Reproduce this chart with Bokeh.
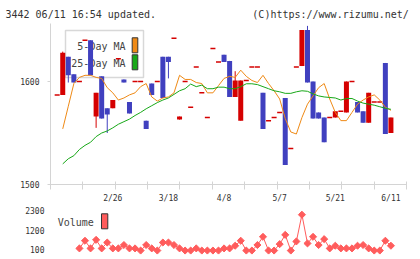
import numpy as np
from bokeh.plotting import figure
from bokeh.layouts import column
from bokeh.models import Range1d, FixedTicker, Label, BoxAnnotation
from bokeh.embed import file_html
from bokeh.resources import INLINE

# ---- daily quotes, oldest first ----
opens = [1587, 1587, 1624, 1607, 1600, 1640, 1640, 1566, 1605, 1574,
         1574, 1622, 1602, 1580, 1600, 1600, 1562, 1598, 1600, 1624,
         1624, 1642, 1563, 1600, 1575, 1614, 1589, 1565, 1632, 1619,
         1626, 1620, 1585, 1562, 1601, 1614, 1614, 1589, 1562, 1565,
         1570, 1584, 1535, 1614, 1615, 1650, 1600, 1570, 1565, 1565,
         1565, 1571, 1570, 1600, 1580, 1571, 1560, 1580, 1580, 1618,
         1550]
closes = [1587, 1628, 1606, 1599, 1600, 1640, 1606, 1589, 1564, 1568,
          1582, 1622, 1599, 1569, 1600, 1600, 1554, 1587, 1600, 1584,
          1619, 1642, 1566, 1600, 1575, 1614, 1589, 1565, 1632, 1619,
          1619, 1585, 1601, 1601, 1601, 1614, 1614, 1554, 1562, 1565,
          1570, 1519, 1535, 1614, 1650, 1599, 1564, 1564, 1541, 1565,
          1571, 1571, 1600, 1600, 1570, 1560, 1589, 1580, 1580, 1549,
          1565]
highs = [1587, 1629, 1624, 1607, 1600, 1640, 1640, 1589, 1605, 1574,
         1582, 1622, 1602, 1580, 1600, 1600, 1562, 1598, 1600, 1624,
         1624, 1642, 1566, 1600, 1575, 1614, 1589, 1565, 1632, 1619,
         1626, 1620, 1610, 1601, 1601, 1614, 1614, 1589, 1562, 1565,
         1570, 1584, 1535, 1614, 1650, 1654, 1600, 1570, 1565, 1565,
         1571, 1571, 1600, 1600, 1580, 1571, 1589, 1580, 1580, 1618,
         1565]
lows = [1587, 1587, 1599, 1599, 1600, 1640, 1606, 1555, 1564, 1550,
        1574, 1622, 1599, 1569, 1600, 1600, 1554, 1587, 1600, 1584,
        1603, 1642, 1563, 1600, 1575, 1614, 1589, 1565, 1632, 1619,
        1619, 1585, 1585, 1562, 1601, 1614, 1614, 1554, 1562, 1565,
        1570, 1519, 1535, 1614, 1615, 1599, 1564, 1564, 1541, 1565,
        1565, 1571, 1570, 1600, 1570, 1560, 1560, 1580, 1580, 1549,
        1550]
nan = float("nan")
ma5 = [nan, 1554, 1576, 1598, 1604, 1606, 1606, 1604, 1603, 1594,
       1589, 1582, 1584, 1587, 1589, 1595, 1598, 1585, 1581, 1584,
       1585, 1589, 1606, 1602, 1602, 1599, 1598, 1589, 1589, 1596,
       1603, 1605, 1604, 1611, 1605, 1601, 1599, 1606, 1598, 1591,
       1583, 1564, 1551, 1549, 1565, 1578, 1586, 1594, 1598, 1583,
       1570, 1562, 1562, 1570, 1578, 1582, 1585, 1587, 1582, 1575,
       1572]
ma25 = [nan, 1520, 1525, 1528, 1534, 1538, 1541, 1546.5, 1550, 1552,
        1555, 1558.5, 1561, 1563.5, 1567, 1570, 1573.5, 1576.5, 1579.5, 1582,
        1584, 1587.5, 1591, 1593, 1597.5, 1595, 1596.5, 1593, 1593, 1594.5,
        1594.5, 1593, 1593, 1595, 1597.8, 1597.8, 1597, 1595, 1593, 1591,
        1590, 1588.5, 1588.5, 1590, 1591, 1590.5, 1588, 1586, 1585, 1584.5,
        1584, 1582, 1583.5, 1583.5, 1581, 1579, 1578, 1577, 1575.5, 1574,
        1573]
volume = [nan, nan, nan, nan, 170, 600, 170, 650, 170, 500,
          170, 170, 360, 170, 170, 50, 360, 170, 50, 500,
          500, 360, 170, 50, 50, 170, 50, 50, 50, 50,
          170, 170, 320, 600, 50, 50, 360, 820, 50, 50,
          410, 930, 50, 560, 2060, 450, 820, 360, 690, 170,
          320, 170, 170, 170, 320, 360, 170, 50, 50, 600,
          320]
date_labels = ["2/26", "3/18", "4/8", "5/7", "5/21", "6/11"]
date_index = [10, 20, 30, 40, 50, 60]
price_ticks = [1500, 1600]
volume_ticks = [100, 1200, 2300]
header_left = "3442 06/11 16:54 updated."
header_right = "(C)https://www.rizumu.net/"

RED = "#d50000"
BLUE = "#4040bf"
ORANGE = "#ef8a16"
GREEN = "#17a817"
VOLC = "#ff5c5c"
AXIS = "#d4d4d4"
TXT = "#333333"
MONO = "DejaVu Sans Mono"

o = np.array(opens, float)
c = np.array(closes, float)
h = np.array(highs, float)
l = np.array(lows, float)
idx = np.arange(len(o))
up = c >= o
doji = c == o
col = np.where(up, RED, BLUE)

# ---- price panel ----
X_LO, X_HI = -1.2, 62.8
p = figure(width=420, height=190, output_backend="svg", toolbar_location=None,
           x_range=Range1d(X_LO, X_HI), y_range=Range1d(1500, 1500 + 161 / 1.03),
           min_border_left=50, min_border_right=14, min_border_top=23,
           min_border_bottom=6)
p.outline_line_color = None
p.grid.visible = False
p.background_fill_color = "white"
p.border_fill_color = "white"

# header line, written as one monospaced title row
p.title.text = header_left + "\u00a0" * 16 + header_right
p.title.align = "left"
p.title.offset = -45
p.title.standoff = 7
p.title.text_font = MONO
p.title.text_font_size = "10px"
p.title.text_font_style = "normal"
p.title.text_color = TXT

xa = p.xaxis[0]
xa.ticker = FixedTicker(ticks=[], minor_ticks=list(np.linspace(X_LO, X_HI, 12)))
xa.minor_tick_in = 3
xa.minor_tick_out = 5
xa.major_tick_in = 0
xa.major_tick_out = 0
xa.axis_line_color = AXIS
xa.minor_tick_line_color = AXIS

ya = p.yaxis[0]
ya.ticker = FixedTicker(ticks=price_ticks)
ya.major_tick_in = 0
ya.major_tick_out = 3
ya.major_label_standoff = 8
ya.major_label_text_font = MONO
ya.major_label_text_font_size = "8px"
ya.major_label_text_color = TXT
ya.axis_line_color = AXIS
ya.major_tick_line_color = AXIS
ya.minor_tick_line_color = None

# legend box, under the candles
box_kw = dict(left_units="screen", right_units="screen", top_units="screen",
              bottom_units="screen", level="underlay")
p.add_layout(BoxAnnotation(left=15, right=93, bottom=107, top=154, fill_color="white",
                           fill_alpha=1, line_color="#d8d8d8", line_alpha=1, line_width=1.5, **box_kw))
p.add_layout(BoxAnnotation(left=81.7, right=87.3, bottom=131.7, top=146.7, fill_color=ORANGE,
                           fill_alpha=1, line_color="#333333", line_alpha=1, line_width=1, **box_kw))
p.add_layout(BoxAnnotation(left=81.7, right=87.3, bottom=114.7, top=129.7, fill_color=GREEN,
                           fill_alpha=1, line_color="#333333", line_alpha=1, line_width=1, **box_kw))
for txt, yy in (("5-Day MA", 138), ("25-Day MA", 120.7)):
    p.add_layout(Label(x=75, y=yy, x_units="screen", y_units="screen", text=txt,
                       text_font=MONO, text_font_size="10px", text_color="#444444",
                       text_align="right", text_baseline="middle", level="underlay"))

# candles: wicks, bodies, flat days
p.segment(x0=idx, y0=l, x1=idx, y1=h, line_color=col, line_width=1)
body = ~doji
p.vbar(x=idx[body], width=0.9, top=np.maximum(o, c)[body], bottom=np.minimum(o, c)[body],
       fill_color=col[body], line_color=None)
p.segment(x0=idx[doji] - 0.45, y0=c[doji], x1=idx[doji] + 0.45, y1=c[doji],
          line_color=RED, line_width=1.5)

# moving averages
p.line(idx, ma5, line_color=ORANGE, line_width=1)
p.line(idx, ma25, line_color=GREEN, line_width=1)

# ---- volume panel ----
q = figure(width=420, height=69, output_backend="svg", toolbar_location=None,
           x_range=Range1d(X_LO, X_HI), y_range=Range1d(-340, 2520),
           x_axis_location="above", min_border_left=50, min_border_right=14,
           min_border_top=15, min_border_bottom=2)
q.outline_line_color = None
q.grid.visible = False

qx = q.xaxis[0]
qx.ticker = FixedTicker(ticks=date_index)
qx.major_label_overrides = {i: t for i, t in zip(date_index, date_labels)}
qx.major_tick_in = 0
qx.major_tick_out = 0
qx.major_label_standoff = 4
qx.axis_line_color = None
qx.major_label_text_font = MONO
qx.major_label_text_font_size = "8px"
qx.major_label_text_color = TXT
qx.minor_tick_line_color = None

qy = q.yaxis[0]
qy.ticker = FixedTicker(ticks=volume_ticks)
qy.major_tick_in = 0
qy.major_tick_out = 0
qy.major_label_standoff = 6
qy.axis_line_color = None
qy.major_label_text_font = MONO
qy.major_label_text_font_size = "8px"
qy.major_label_text_color = TXT
qy.minor_tick_line_color = None

q.line(idx, volume, line_color=VOLC, line_width=1)
q.scatter(idx, volume, marker="square", angle=np.pi / 4, size=5,
          fill_color=VOLC, line_color=VOLC)

q.add_layout(Label(x=43.3, y=35, x_units="screen", y_units="screen", text="Volume",
                   text_font=MONO, text_font_size="10px", text_color="#444444",
                   text_align="right", text_baseline="middle"))
q.add_layout(BoxAnnotation(left=51, right=57.3, bottom=28.7, top=43.7, left_units="screen",
                           right_units="screen", top_units="screen", bottom_units="screen",
                           fill_color=VOLC, fill_alpha=1, line_color="#333333", line_alpha=1,
                           line_width=1))

layout = column(p, q, spacing=0)
open("out.html", "w").write(file_html(layout, INLINE))
